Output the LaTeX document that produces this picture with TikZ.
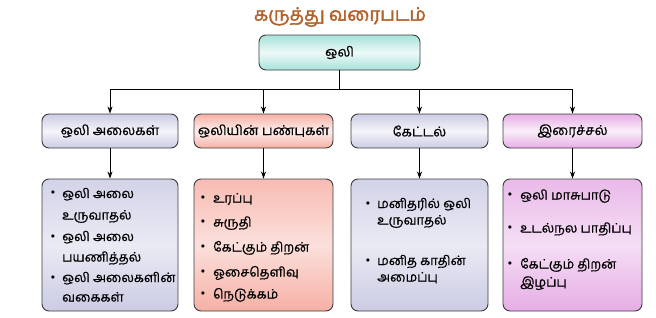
\documentclass[tikz,border=0pt]{standalone}
\usepackage{fontspec}
\newfontfamily\tam[Script=Tamil,FakeBold=0.6]{Hind Madurai}
\newfontfamily\tamb[Script=Tamil,FakeBold=2]{Hind Madurai}
\usetikzlibrary{arrows.meta}
\definecolor{bord}{HTML}{3C3C3C}
\definecolor{titlec}{HTML}{B2612A}
\tikzset{
  box/.style={draw=bord, line width=0.9pt, rounded corners=7pt, align=center, inner sep=0pt, font=\tam\fontsize{13.5}{16}\selectfont},
  topbox/.style={box, top color=#1, bottom color=#1, middle color=white!80!#1},
  lvbox/.style={box, top color=white!15!#1, bottom color=#1, middle color=white!60!#1},
  bul/.style={inner sep=0pt, anchor=center, font=\fontsize{8}{8}\selectfont},
  itm/.style={inner sep=0pt, anchor=base west, align=left, font=\tam\fontsize{13}{#1}\selectfont},
  conn/.style={draw=black, line width=0.8pt},
  arr/.style={conn, -{Stealth[length=7pt,width=5pt]}}
}
\definecolor{teal1}{HTML}{A6E2DA}
\definecolor{lav}{HTML}{CBCBE4}
\definecolor{sal}{HTML}{F6B0A5}
\definecolor{pnk}{HTML}{E6ADE5}
\begin{document}
\begin{tikzpicture}[x=1pt,y=-1pt]
\useasboundingbox (0,0) rectangle (656,317);
% title
\node[font=\tamb\fontsize{18.5}{20}\selectfont, text=titlec, inner sep=0pt] (title) at (340,17) {கருத்து வரைபடம்};
% top
\node[topbox=teal1, minimum width=161pt, minimum height=35pt] (top) at (339.5,52.5) {ஒலி};
% level 2
\node[topbox=lav, minimum width=136pt, minimum height=34pt] (b1) at (110,131) {ஒலி அலைகள்};
\node[topbox=sal, minimum width=139pt, minimum height=34pt] (b2) at (263.5,131) {ஒலியின் பண்புகள்};
\node[topbox=lav, minimum width=137pt, minimum height=34pt] (b3) at (419.5,131) {கேட்டல்};
\node[topbox=pnk, minimum width=139pt, minimum height=34pt] (b4) at (572.5,131) {இரைச்சல்};
% level 3
\node[lvbox=lav, minimum width=136pt, minimum height=132pt] (c1) at (110,245) {};
\node[lvbox=sal, minimum width=139pt, minimum height=132pt] (c2) at (263.5,245) {};
\node[lvbox=lav, minimum width=137pt, minimum height=132pt] (c3) at (419.5,245) {};
\node[lvbox=pnk, minimum width=139pt, minimum height=132pt] (c4) at (572.5,245) {};
% connectors
\coordinate (split) at (339.5,89);
\coordinate (s1) at (b1.north |- split);
\coordinate (s4) at (b4.north |- split);
\draw[conn] (top.south) -- (split);
\draw[conn] (s1) -- (s4);
\draw[arr] (s1) -- (b1.north);
\draw[arr] (b2.north |- split) -- (b2.north);
\draw[arr] (b3.north |- split) -- (b3.north);
\draw[arr] (s4) -- (b4.north);
\draw[arr] (b1.south) -- (c1.north);
\draw[arr] (b2.south) -- (c2.north);
\draw[arr] (b3.south) -- (c3.north);
\draw[arr] (b4.south) -- (c4.north);
% box 1 items
\node[bul] (p1a) at (53,193) {$\bullet$};
\node[itm=21.5] (t1a) at (62,219.5) {ஒலி அலை\\உருவாதல்};
\node[bul] (p1b) at (53,237) {$\bullet$};
\node[itm=20.5] (t1b) at (62,261.5) {ஒலி அலை\\பயணித்தல்};
\node[bul] (p1c) at (53,278) {$\bullet$};
\node[itm=19.5] (t1c) at (62,301.5) {ஒலி அலைகளின்\\வகைகள்};
% box 2 items
\node[bul] (p2a) at (203,198) {$\bullet$};
\node[itm=18] (t2a) at (213,202.5) {உரப்பு};
\node[bul] (p2b) at (203,222) {$\bullet$};
\node[itm=18] (t2b) at (213,226.5) {சுருதி};
\node[bul] (p2c) at (203,247) {$\bullet$};
\node[itm=18] (t2c) at (213,251.5) {கேட்கும் திறன்};
\node[bul] (p2d) at (203,272) {$\bullet$};
\node[itm=18] (t2d) at (213,276.5) {ஓசைதெளிவு};
\node[bul] (p2e) at (203,294) {$\bullet$};
\node[itm=18] (t2e) at (213,298.5) {நெடுக்கம்};
% box 3 items
\node[bul] (p3a) at (368,204) {$\bullet$};
\node[itm=16.5] (t3a) at (377,224.5) {மனிதரில் ஒலி\\உருவாதல்};
\node[bul] (p3b) at (368,261) {$\bullet$};
\node[itm=16.5] (t3b) at (377,281.5) {மனித காதின்\\அமைப்பு};
% box 4 items
\node[bul] (p4a) at (510,195) {$\bullet$};
\node[itm=18] (t4a) at (520,199.5) {ஒலி மாசுபாடு};
\node[bul] (p4b) at (510,228) {$\bullet$};
\node[itm=18] (t4b) at (520,232.5) {உடல்நல பாதிப்பு};
\node[bul] (p4c) at (510,264) {$\bullet$};
\node[itm=18] (t4c) at (520,286.5) {கேட்கும் திறன்\\இழப்பு};
\end{tikzpicture}
\end{document}
